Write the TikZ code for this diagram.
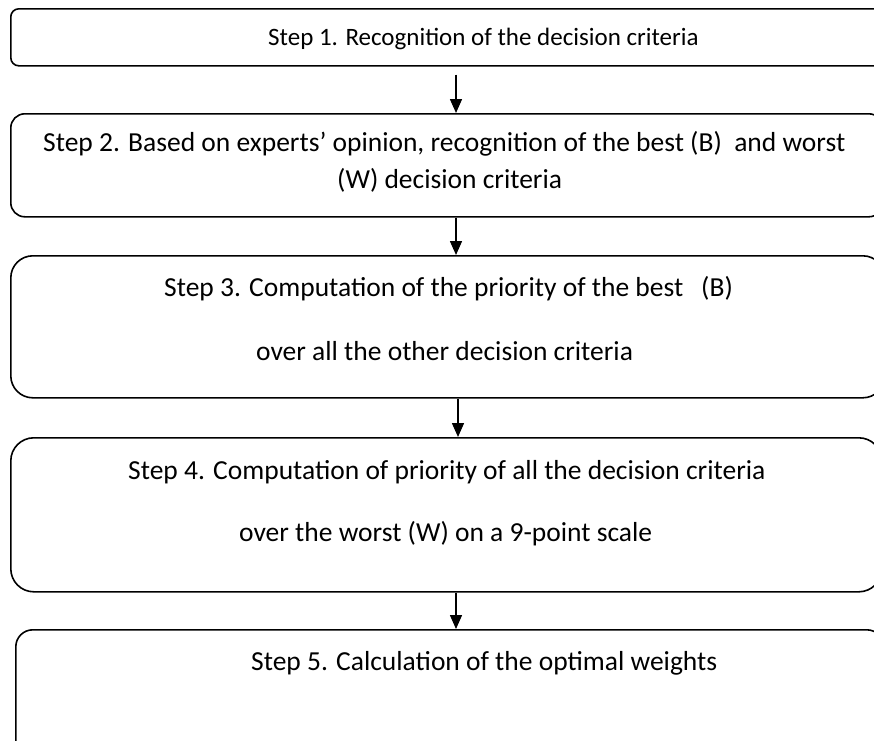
\documentclass[tikz,border=0pt]{standalone}
\usepackage{fontspec}
\setmainfont{Carlito}
\usetikzlibrary{arrows.meta,positioning}
\tikzset{
  stepbox/.style={draw, line width=1.6pt, anchor=north west, inner sep=0pt},
  steptext/.style={font=\fontsize{27.5}{33}\selectfont, inner sep=0pt, anchor=west},
  steparrow/.style={-{Triangle[width=12pt,length=14pt]}, line width=1.5pt}
}

\begin{document}
\begin{tikzpicture}[x=1pt, y=-1pt]
  \useasboundingbox (0,0) rectangle (874,740);
  \clip (0,0) rectangle (874,740);

  % the five boxes
  \node[stepbox, rounded corners=8pt,  minimum width=874pt, minimum height=57pt]  (box1) at (10,8)   {};
  \node[stepbox, rounded corners=14pt, minimum width=872pt, minimum height=103pt] (box2) at (10,113) {};
  \node[stepbox, rounded corners=22pt, minimum width=874pt, minimum height=142pt] (box3) at (10,255) {};
  \node[stepbox, rounded corners=23pt, minimum width=871pt, minimum height=154pt] (box4) at (10,437) {};
  \node[stepbox, rounded corners=17pt, minimum width=868pt, minimum height=131pt] (box5) at (15,629) {};

  % texts
  \node[steptext, font=\fontsize{25}{30}\selectfont] (s1) at (268,39) {Step 1. Recognition of the decision criteria};
  \node[steptext] (s2a) at (43,144)  {Step 2. Based on experts' opinion, recognition of the best (B)\ \ and worst};
  \node[steptext] (s2b) at (337,180) {(W) decision criteria};
  \node[steptext] (s3a) at (164,289) {Step 3. Computation of the priority of the best\hspace{18pt}(B)};
  \node[steptext] (s3b) at (256,351) {over all the other decision criteria};
  \node[steptext] (s4a) at (128,472) {Step 4. Computation of priority of all the decision criteria};
  \node[steptext] (s4b) at (239,534) {over the worst (W) on a 9-point scale};
  \node[steptext] (s5)  at (251,663) {Step 5. Calculation of the optimal weights};

  % connectors
  \coordinate (ax) at (456,0);
  \coordinate (bx) at (458,0);
  \draw[steparrow, shorten <=8pt] (box1.south -| ax) -- (box2.north -| ax);
  \draw[steparrow] (box2.south -| ax) -- (box3.north -| ax);
  \draw[steparrow] (box3.south -| bx) -- (box4.north -| bx);
  \draw[steparrow] (box4.south -| ax) -- (box5.north -| ax);

\end{tikzpicture}
\end{document}
